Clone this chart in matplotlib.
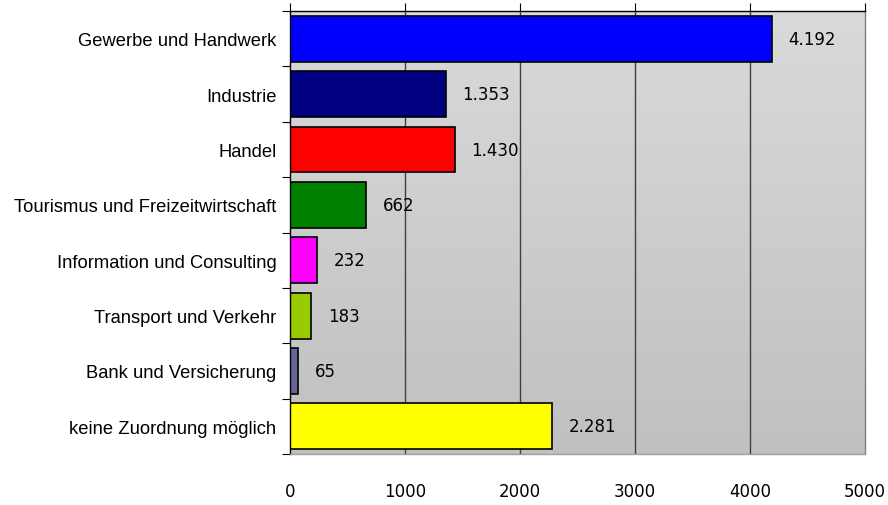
"""Horizontal bar chart: Betriebe nach Branchen."""

import matplotlib
matplotlib.use("Agg")
import matplotlib.pyplot as plt
import numpy as np

categories = [
    "Gewerbe und Handwerk",
    "Industrie",
    "Handel",
    "Tourismus und Freizeitwirtschaft",
    "Information und Consulting",
    "Transport und Verkehr",
    "Bank und Versicherung",
    "keine Zuordnung möglich",
]
values = [4192, 1353, 1430, 662, 232, 183, 65, 2281]
bar_colors = ["#0000ff", "#000080", "#ff0000", "#008000",
              "#ff00ff", "#99cc00", "#666699", "#ffff00"]
x_ticks = [0, 1000, 2000, 3000, 4000, 5000]

fig = plt.figure(figsize=(8.88, 5.06), dpi=100)
ax = fig.add_axes([0.327, 0.101, 0.647, 0.875])

n = len(categories)
ax.set_xlim(0, 5000)
ax.set_ylim(n, 0)

# vertical gray gradient background
grad = np.linspace(0, 1, 256).reshape(-1, 1)
ax.imshow(grad, cmap=matplotlib.colors.LinearSegmentedColormap.from_list(
    "bg", ["#dadada", "#c0c0c0"]), extent=[0, 5000, n, 0],
    aspect="auto", zorder=0)

for x in x_ticks[1:-1]:
    ax.axvline(x, color="#404040", linewidth=1.0, zorder=1)

pos = np.arange(n) + 0.5
ax.barh(pos, values, height=0.83, color=bar_colors, edgecolor="black",
        linewidth=1.2, zorder=2)

for p, v in zip(pos, values):
    ax.annotate(f"{v:,}".replace(",", "."), (v, p), xytext=(12, 0),
                textcoords="offset points", va="center", ha="left",
                fontsize=12, fontfamily="DejaVu Sans", zorder=3)

ax.set_yticks(np.arange(n + 1))
ax.set_yticklabels([])
ax.set_yticks(pos, minor=True)
ax.set_yticklabels(categories, minor=True, fontsize=13.2,
                   fontfamily="Liberation Sans")
ax.tick_params(axis="y", which="minor", length=0, pad=10)
ax.tick_params(axis="y", which="major", length=6, direction="out",
               color="black")

ax.set_xticks(x_ticks)
ax.set_xticklabels([str(t) for t in x_ticks], fontsize=12)
ax.tick_params(axis="x", top=True, bottom=False, labeltop=False,
               labelbottom=True, length=6, direction="out", pad=14,
               color="black")

ax.spines["top"].set_color("black")
ax.spines["left"].set_color("black")
ax.spines["right"].set_color("#808080")
ax.spines["bottom"].set_color("#a0a0a0")
for s in ax.spines.values():
    s.set_linewidth(1.0)

fig.savefig("out.png", dpi=100)
